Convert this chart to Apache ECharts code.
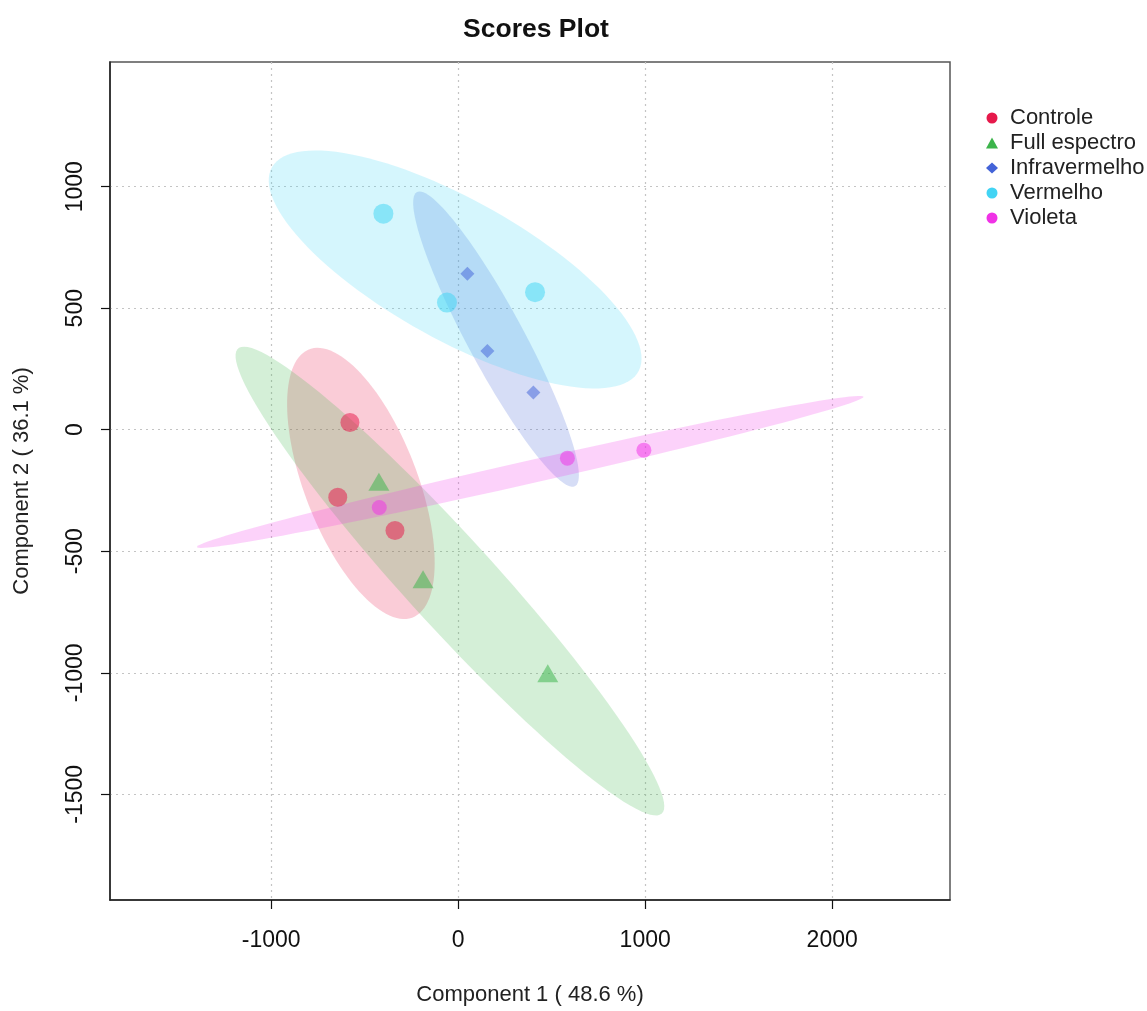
<!DOCTYPE html>
<html>
<head>
<meta charset="utf-8">
<script src="https://cdn.jsdelivr.net/npm/echarts@6/dist/echarts.min.js"></script>
<style>html,body{margin:0;padding:0;background:#fff}#c{width:1147px;height:1011px}</style>
</head>
<body>
<div id="c"></div>
<script>
// ---- data ----
const groups = ['Controle', 'Full espectro', 'Infravermelho', 'Vermelho', 'Violeta'];
const colors = ['#e6194b', '#3cb44b', '#4363d8', '#42d4f4', '#f032e6'];
const controle      = [[-579, 30], [-644, -278], [-338, -415]];
const fullEspectro  = [[-424, -226], [-188, -628], [479, -1014]];
const infravermelho = [[49, 642], [156, 324], [402, 153]];
const vermelho      = [[-400, 889], [-60, 523], [411, 566]];
const violeta       = [[-422, -320], [584, -117], [993, -84]];
const xTicks = [-1000, 0, 1000, 2000];
const yTicks = [-1500, -1000, -500, 0, 500, 1000];
const xTitle = 'Component 1 ( 48.6 %)';
const yTitle = 'Component 2 ( 36.1 %)';
const chartTitle = 'Scores Plot';

const groupData = [controle, fullEspectro, infravermelho, vermelho, violeta];
const symbols = ['circle', 'triangle', 'diamond', 'circle', 'circle'];
const symbolSizes = [19, [21, 18], [14, 14], 20, 15];
const symbolOffsets = [[0, 0], [0, -3], [0, 0], [0, 0], [0, 0]];

function hexA(hex, a) {
  const r = parseInt(hex.slice(1, 3), 16), g = parseInt(hex.slice(3, 5), 16), b = parseInt(hex.slice(5, 7), 16);
  return 'rgba(' + r + ',' + g + ',' + b + ',' + a + ')';
}

// 95% confidence ellipse (as ellipse::ellipse(cov, level = 0.95))
function confEllipse(pts, n) {
  const m = pts.length;
  let cx = 0, cy = 0;
  pts.forEach(p => { cx += p[0]; cy += p[1]; });
  cx /= m; cy /= m;
  let sxx = 0, syy = 0, sxy = 0;
  pts.forEach(p => { const dx = p[0] - cx, dy = p[1] - cy; sxx += dx * dx; syy += dy * dy; sxy += dx * dy; });
  sxx /= (m - 1); syy /= (m - 1); sxy /= (m - 1);
  const t = Math.sqrt(5.991464547107979);
  const s1 = Math.sqrt(sxx), s2 = Math.sqrt(syy);
  const r = Math.max(-1, Math.min(1, sxy / (s1 * s2)));
  const d = Math.acos(r);
  const out = [];
  for (let i = 0; i < n; i++) {
    const a = 2 * Math.PI * i / (n - 1);
    out.push([t * s1 * Math.cos(a + d / 2) + cx, t * s2 * Math.cos(a - d / 2) + cy]);
  }
  return { center: [cx, cy], pts: out };
}

const FONT = '"Liberation Sans", Arial, sans-serif';
const series = [];
groups.forEach((g, i) => {
  const el = confEllipse(groupData[i], 120);
  series.push({
    name: g + ' ellipse',
    type: 'custom',
    silent: true,
    z: 1,
    data: [el.center],
    renderItem: function (params, api) {
      return {
        type: 'polygon',
        shape: { points: el.pts.map(p => api.coord(p)) },
        style: { fill: hexA(colors[i], 0.22), stroke: null }
      };
    }
  });
});
groups.forEach((g, i) => {
  series.push({
    name: g,
    type: 'scatter',
    z: 3,
    symbol: symbols[i],
    symbolSize: symbolSizes[i],
    symbolOffset: symbolOffsets[i],
    itemStyle: { color: hexA(colors[i], 0.65) },
    emphasis: { disabled: true },
    data: groupData[i]
  });
});

const plain = v => String(v);
const chart = echarts.init(document.getElementById('c'), null, { renderer: 'canvas' });
chart.setOption({
  animation: false,
  backgroundColor: '#fff',
  title: {
    text: chartTitle, left: 531, top: 11, textAlign: 'center',
    textStyle: { fontFamily: FONT, fontSize: 26.5, fontWeight: 'bold', color: '#111' }
  },
  legend: {
    orient: 'vertical', left: 981, top: 102,
    itemWidth: 12, itemHeight: 11, itemGap: 3,
    textStyle: { fontFamily: FONT, fontSize: 22, color: '#222', lineHeight: 22, padding: [0, 0, 0, 7] },
    data: groups.map((g, i) => ({ name: g, icon: symbols[i], itemStyle: { color: colors[i], opacity: 1 } })),
    selectedMode: false
  },
  grid: { left: 110, right: 197, top: 62, bottom: 109, show: true, borderColor: '#555', borderWidth: 1.5, backgroundColor: 'transparent' },
  xAxis: {
    type: 'value', min: -1862, max: 2630,
    name: xTitle, nameLocation: 'middle', nameGap: 84,
    nameTextStyle: { fontFamily: FONT, fontSize: 22, color: '#222' },
    axisLine: { show: true, onZero: false, lineStyle: { color: '#222', width: 1.5 } },
    axisTick: { show: true, length: 9, customValues: xTicks, lineStyle: { color: '#111', width: 1.2 } },
    axisLabel: { customValues: xTicks, formatter: plain, margin: 29, fontFamily: FONT, fontSize: 23, color: '#111' },
    splitLine: { show: true, lineStyle: { color: '#c4c4c4', type: [2, 4], width: 1.2 } }
  },
  yAxis: {
    type: 'value', min: -1935, max: 1513,
    name: yTitle, nameLocation: 'middle', nameGap: 77,
    nameTextStyle: { fontFamily: FONT, fontSize: 22, color: '#222' },
    axisLine: { show: true, onZero: false, lineStyle: { color: '#222', width: 1.5 } },
    axisTick: { show: true, length: 9, customValues: yTicks, lineStyle: { color: '#111', width: 1.2 } },
    axisLabel: { customValues: yTicks, formatter: plain, rotate: 90, margin: 23, fontFamily: FONT, fontSize: 23, color: '#111' },
    splitLine: { show: true, lineStyle: { color: '#c4c4c4', type: [2, 4], width: 1.2 } }
  },
  series: series
});
</script>
</body>
</html>
